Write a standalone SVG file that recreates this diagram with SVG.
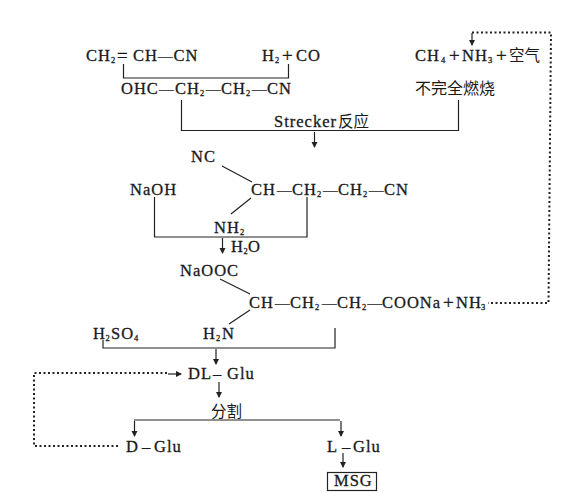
<svg xmlns="http://www.w3.org/2000/svg" width="577" height="499" viewBox="0 0 577 499">
<style>
text{font-family:"Liberation Serif","Noto Sans CJK SC",serif;font-size:16.500px;letter-spacing:1px;fill:#1a1a1a;stroke:#1a1a1a;stroke-width:.3}
.s{font-size:8.500px;letter-spacing:0}
.p{font-size:19px;letter-spacing:0}
.m{font-size:14.500px;letter-spacing:0}
.z{font-family:"Noto Sans CJK SC",sans-serif;font-size:15.500px;letter-spacing:0;stroke-width:0}
.l{fill:none;stroke:#222;stroke-width:1.2}
.d{fill:none;stroke:#222;stroke-width:2;stroke-dasharray:2 2.500}
</style>
<defs>
<marker id="a" markerUnits="userSpaceOnUse" markerWidth="7" markerHeight="7" refX="5" refY="3" orient="auto"><path d="M0 0L6 3L0 6Z" fill="#222"/></marker>
</defs>
<rect width="577" height="499" fill="#fff"/>
<g id="connectors">
<path class="l" d="M123.500 64V78H288.500V64"/>
<path class="l" d="M181.500 100V130.500H458.500V100"/>
<path class="l" marker-end="url(#a)" d="M314.500 132V147"/>
<path class="d" d="M472 32.500H551L548.500 303H488"/>
<path class="l" marker-end="url(#a)" d="M472 33V45"/>
<path class="l" d="M222 166L252 182M251 198L231 214"/>
<path class="l" d="M154.500 197V237H307V197"/>
<path class="l" marker-end="url(#a)" d="M222.500 238V253"/>
<path class="l" d="M220 279L250 294M250 310L229 324"/>
<path class="l" d="M103 340V348H335V328"/>
<path class="l" marker-end="url(#a)" d="M216 349V364"/>
<path class="d" d="M167 373H34V446H120"/>
<path class="l" marker-end="url(#a)" d="M168 374H181"/>
<path class="l" marker-end="url(#a)" d="M219 382V397"/>
<path class="l" d="M134 420H340"/>
<path class="l" marker-end="url(#a)" d="M134.500 421V436"/>
<path class="l" marker-end="url(#a)" d="M341 421V436"/>
<path class="l" marker-end="url(#a)" d="M343 453V467"/>
</g>
<g id="acrylonitrile"><text y="61"><tspan x="86">CH</tspan><tspan class="s" x="111" y="63">2</tspan><tspan class="p" x="117" y="62">=</tspan><tspan x="133" y="61">CH</tspan><tspan class="m" x="158">—</tspan><tspan x="173.500">CN</tspan></text></g>
<g id="syngas"><text y="61"><tspan x="262">H</tspan><tspan class="s" x="275" y="63">2</tspan><tspan class="p" x="282" y="62">+</tspan><tspan x="296" y="61">CO</tspan></text></g>
<g id="feed"><text y="61"><tspan x="415">CH</tspan><tspan class="s" x="441" y="63">4</tspan><tspan class="p" x="449" y="62">+</tspan><tspan x="462" y="61">NH</tspan><tspan class="s" x="488" y="63">3</tspan><tspan class="p" x="496" y="62">+</tspan><tspan class="z" x="509" y="61">空气</tspan></text></g>
<g id="aldehyde"><text y="94"><tspan x="121">OHC</tspan><tspan class="m" x="159">—</tspan><tspan x="175">CH</tspan><tspan class="s" x="200" y="96">2</tspan><tspan class="m" x="206" y="94">—</tspan><tspan x="221">CH</tspan><tspan class="s" x="246" y="96">2</tspan><tspan class="m" x="252" y="94">—</tspan><tspan x="267">CN</tspan></text></g>
<g id="combustion"><text class="z" x="415" y="94" style="font-size:16px">不完全燃烧</text></g>
<g id="strecker"><text y="127"><tspan x="274">Strecker</tspan><tspan class="z" x="338">反应</tspan></text></g>
<g id="nitrile"><text x="191" y="162">NC</text><text y="195"><tspan x="251">CH</tspan><tspan class="m" x="277">—</tspan><tspan x="292">CH</tspan><tspan class="s" x="317" y="197">2</tspan><tspan class="m" x="323" y="195">—</tspan><tspan x="338">CH</tspan><tspan class="s" x="363" y="197">2</tspan><tspan class="m" x="369" y="195">—</tspan><tspan x="384">CN</tspan></text><text y="233"><tspan x="214">NH</tspan><tspan class="s" x="240" y="235">2</tspan></text></g>
<g id="naoh"><text x="130" y="195">NaOH</text></g>
<g id="water"><text y="252"><tspan x="231">H</tspan><tspan class="s" x="243.500" y="254">2</tspan><tspan x="248" y="252">O</tspan></text></g>
<g id="salt"><text x="180" y="276">NaOOC</text><text y="308"><tspan x="249">CH</tspan><tspan class="m" x="275">—</tspan><tspan x="290">CH</tspan><tspan class="s" x="315" y="310">2</tspan><tspan class="m" x="322" y="308">—</tspan><tspan x="337">CH</tspan><tspan class="s" x="362" y="310">2</tspan><tspan class="m" x="367.500" y="308">—</tspan><tspan x="382">COONa</tspan><tspan class="p" x="443" y="309">+</tspan><tspan x="456" y="308">NH</tspan><tspan class="s" x="481" y="310">3</tspan></text><text y="339"><tspan x="203">H</tspan><tspan class="s" x="216" y="341">2</tspan><tspan x="222" y="339">N</tspan></text></g>
<g id="acid"><text y="339"><tspan x="93">H</tspan><tspan class="s" x="105.500" y="341">2</tspan><tspan x="111" y="339">SO</tspan><tspan class="s" x="134" y="341">4</tspan></text></g>
<g id="dl-glu"><text y="379"><tspan x="188">DL</tspan><tspan x="213">–</tspan><tspan x="227">Glu</tspan></text></g>
<g id="resolution"><text class="z" x="211" y="417">分割</text></g>
<g id="d-glu"><text y="452"><tspan x="126">D</tspan><tspan x="142">–</tspan><tspan x="154">Glu</tspan></text></g>
<g id="l-glu"><text y="452"><tspan x="327">L</tspan><tspan x="342">–</tspan><tspan x="353">Glu</tspan></text></g>
<g id="msg"><rect x="327.500" y="472.500" width="49" height="18" fill="none" stroke="#222" stroke-width="1.200"/><text x="334" y="486">MSG</text></g>
</svg>
